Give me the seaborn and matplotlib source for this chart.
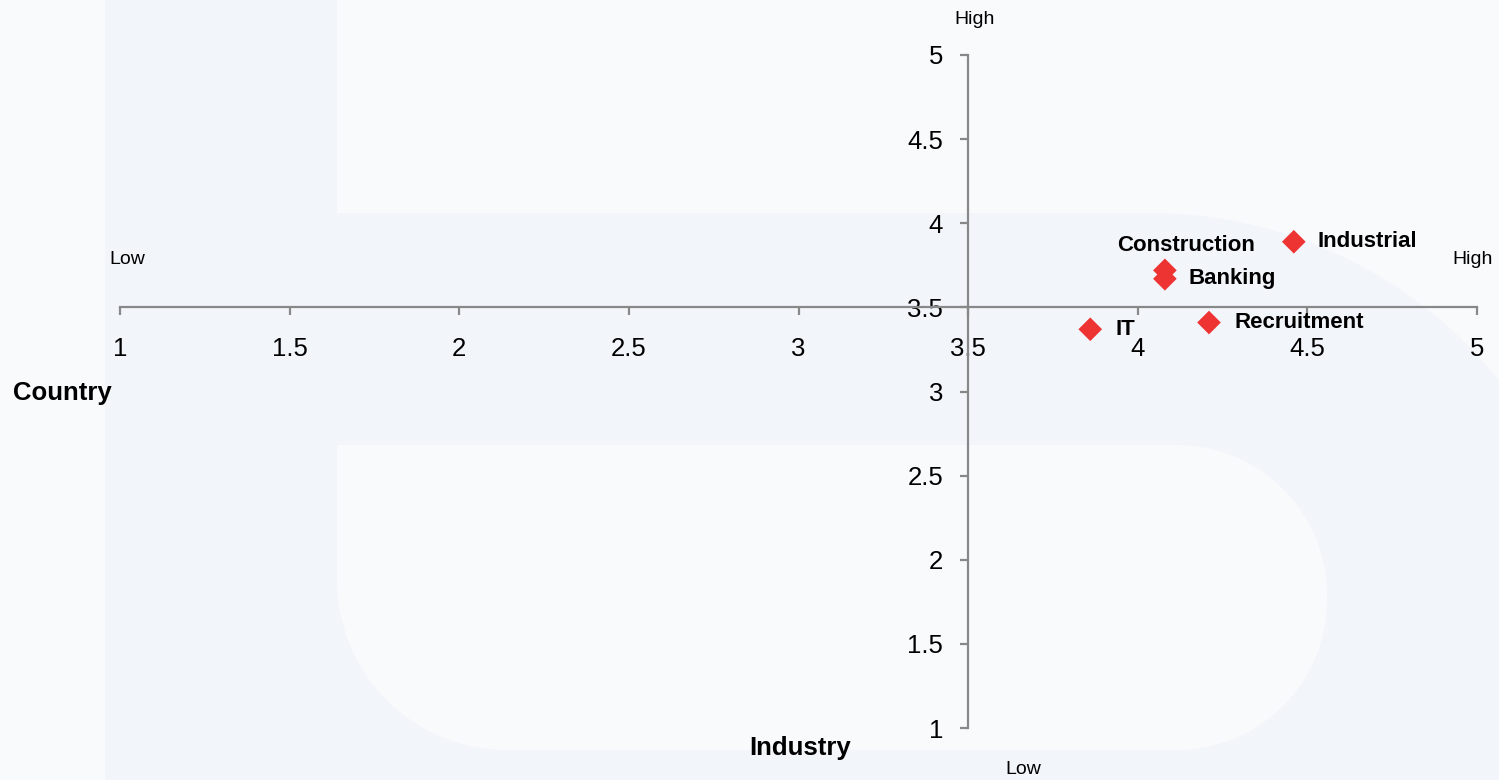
import matplotlib
matplotlib.use("Agg")
import matplotlib.pyplot as plt
import seaborn as sns
import pandas as pd
import numpy as np
from matplotlib.patches import Rectangle, Polygon

sectors = ["Industrial", "Construction", "Banking", "Recruitment", "IT"]
country = [4.46, 4.08, 4.08, 4.21, 3.86]
industry = [3.89, 3.72, 3.67, 3.41, 3.37]
ticks = [1, 1.5, 2, 2.5, 3, 3.5, 4, 4.5, 5]
tick_labels = ["1", "1.5", "2", "2.5", "3", "3.5", "4", "4.5", "5"]

df = pd.DataFrame({"sector": sectors, "country": country, "industry": industry})

sns.set_theme(style="white")
plt.rcParams['font.family'] = ['Liberation Sans', 'DejaVu Sans']
plt.rcParams['text.color'] = 'black'

W, H = 1499, 780
fig = plt.figure(figsize=(W / 100, H / 100), dpi=100)
bg_col = "#f9fafc"
shape_col = "#f2f5fa"
fig.patch.set_facecolor(bg_col)

# background "b" watermark in a pixel-coordinate axes
bg = fig.add_axes([0, 0, 1, 1], zorder=0)
bg.set_xlim(0, W)
bg.set_ylim(H, 0)
bg.axis("off")

def arc(cx, cy, r, a0, a1, n=40):
    t = np.radians(np.linspace(a0, a1, n))
    return list(zip(cx + r * np.cos(t), cy + r * np.sin(t)))

bg.add_patch(Rectangle((105, -10), 337 - 105, H + 20, facecolor=shape_col, edgecolor="none"))
R = 448
bowl = [(105, 213), (1150, 213)] + arc(1150, 213 + R, R, -90, 0) + [(1150 + R, H + 20), (105, H + 20)]
bg.add_patch(Polygon(bowl, closed=True, facecolor=shape_col, edgecolor="none"))
r1, r2 = 150, 170
hole = ([(337, 445), (1327 - r1, 445)] + arc(1327 - r1, 445 + r1, r1, -90, 0)
        + arc(1327 - r1, 750 - r1, r1, 0, 90) + arc(337 + r2, 750 - r2, r2, 90, 180))
bg.add_patch(Polygon(hole, closed=True, facecolor=bg_col, edgecolor="none"))

def fx(x): return x / W
def fy(y): return 1 - y / H

ax = fig.add_axes([fx(120), fy(728), fx(1477) - fx(120), fy(55) - fy(728)], zorder=2)
ax.set_facecolor("none")

sns.scatterplot(data=df, x="country", y="industry", ax=ax, marker="D", s=145,
                color="#ee3333", edgecolor="none", zorder=5, legend=False)

ax.set_xlim(1, 5)
ax.set_ylim(1, 5)
ax.set_xticks(ticks)
ax.set_xticklabels(tick_labels)
ax.set_yticks(ticks)
ax.set_yticklabels(tick_labels)

for s in ["top", "right"]:
    ax.spines[s].set_visible(False)
ax.spines["left"].set_position(("data", 3.5))
ax.spines["bottom"].set_position(("data", 3.5))
for s in ["left", "bottom"]:
    ax.spines[s].set_color("#888888")
    ax.spines[s].set_linewidth(1.6)
ax.tick_params(axis="both", which="major", direction="out", length=6, width=1.6,
               color="#888888", labelsize=18.5, labelcolor="black")
ax.tick_params(axis="x", pad=15, bottom=True)
ax.tick_params(axis="y", pad=12, left=True)
ax.set_xlabel("")
ax.set_ylabel("")

offsets = {
    "Industrial": (24, 0, "left"),
    "Construction": (21, 25, "center"),
    "Banking": (24, 0, "left"),
    "Recruitment": (26, 0, "left"),
    "IT": (25, 0, "left"),
}
for name, cx, cy in zip(sectors, country, industry):
    dx, dy, ha = offsets[name]
    ax.annotate(name, (cx, cy), xytext=(dx, dy), textcoords="offset pixels",
                ha=ha, va="center", fontsize=16, fontweight="bold", color="black")

def ftext(x, y, s, **kw):
    fig.text(fx(x), fy(y), s, transform=fig.transFigure, zorder=3, color="black", **kw)

ftext(975, 19, "High", ha="center", va="center", fontsize=14)
ftext(127, 259, "Low", ha="center", va="center", fontsize=14)
ftext(1473, 259, "High", ha="center", va="center", fontsize=14)
ftext(1023, 770, "Low", ha="center", va="center", fontsize=14)
ftext(62, 393, "Country", ha="center", va="center", fontsize=18.5, fontweight="bold")
ftext(800, 748, "Industry", ha="center", va="center", fontsize=18.5, fontweight="bold")

fig.savefig("out.png", dpi=100, facecolor=fig.get_facecolor())
